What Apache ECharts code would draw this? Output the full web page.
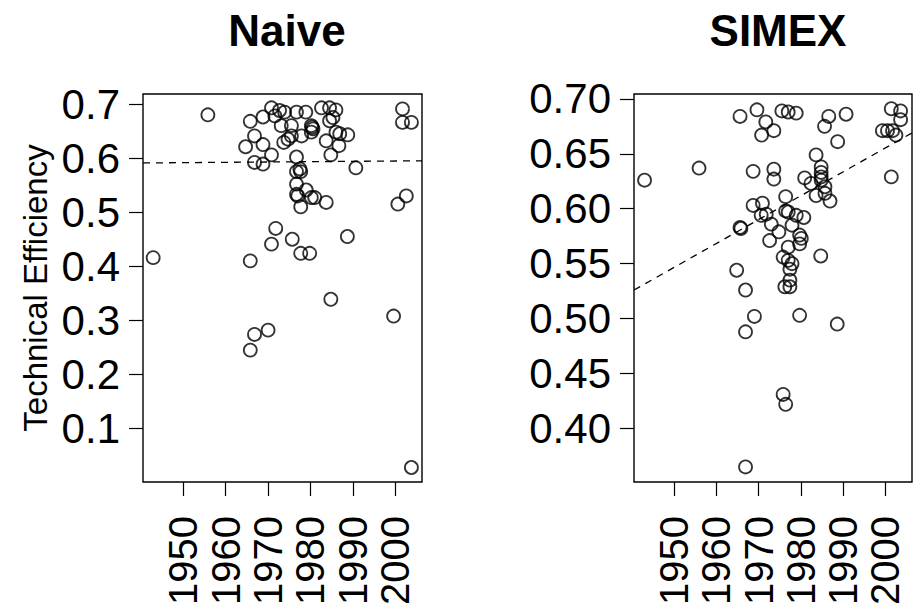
<!DOCTYPE html>
<html>
<head>
<meta charset="utf-8">
<script src="https://cdn.jsdelivr.net/npm/echarts@6/dist/echarts.min.js"></script>
<style>html,body{margin:0;padding:0;background:#fff}#c{width:915px;height:608px}</style>
</head>
<body>
<div id="c"></div>
<script>
// ---- data ----
const naiveYears = [1942.9,1955.8,1970.8,1972.7,1973.9,1976.7,1978.9,1982.6,1984.5,1986.0,1985.3,1984.5,1968.8,1965.8,1971.6,1973.1,1975.5,1980.2,1980.6,1980.2,1977.9,1975.5,1974.7,1973.7,1966.8,1968.8,1964.7,1970.8,1983.7,1986.0,1986.9,1988.8,1986.7,1984.8,2001.7,2001.7,2003.8,1966.8,1968.8,1976.7,1977.5,1976.7,1977.7,1990.7,1976.7,1976.7,1977.0,1979.0,1980.2,1981.0,1977.7,1983.7,2000.6,2002.6,1971.8,1970.8,1975.7,1977.7,1979.8,1988.7,1965.8,1984.8,1970.0,1966.8,1965.8,1999.6,2003.8,1980.4];
const naiveValues = [0.416,0.680,0.693,0.688,0.685,0.685,0.685,0.693,0.693,0.689,0.675,0.669,0.676,0.668,0.678,0.660,0.660,0.660,0.654,0.648,0.641,0.641,0.635,0.629,0.641,0.625,0.621,0.606,0.632,0.648,0.645,0.643,0.623,0.606,0.691,0.666,0.666,0.592,0.589,0.602,0.580,0.575,0.575,0.582,0.552,0.533,0.530,0.541,0.527,0.527,0.510,0.518,0.515,0.530,0.470,0.441,0.450,0.424,0.424,0.455,0.410,0.339,0.282,0.274,0.245,0.308,0.028,0.657];

const simexYears = [1943.0,1955.9,1965.6,1969.6,1971.7,1973.6,1970.7,1975.5,1968.7,1973.6,1973.6,1965.6,1965.8,1964.8,1966.9,1969.0,1966.9,1966.9,1975.8,1976.4,1968.7,1970.9,1970.6,1971.8,1973.0,1974.8,1972.6,1976.4,1976.4,1977.0,1978.9,1986.6,1990.7,1985.6,1988.7,2001.4,2003.6,2003.6,1999.3,2000.5,2001.7,2002.5,2001.4,1983.6,1984.8,1984.8,1984.8,1984.8,1980.9,1982.4,1985.7,1983.6,1985.7,1986.9,1977.0,1978.9,1980.7,1977.9,1979.7,1980.1,1979.7,1977.0,1984.7,1975.8,1977.0,1977.9,1977.4,1977.4,1977.4,1976.2,1979.7,1988.6];
const simexValues = [0.626,0.637,0.684,0.690,0.679,0.671,0.667,0.689,0.634,0.636,0.627,0.583,0.582,0.544,0.526,0.502,0.488,0.365,0.431,0.422,0.603,0.605,0.594,0.595,0.586,0.579,0.571,0.611,0.598,0.688,0.687,0.684,0.686,0.675,0.661,0.691,0.689,0.681,0.671,0.671,0.671,0.667,0.629,0.649,0.638,0.633,0.629,0.626,0.628,0.623,0.620,0.612,0.614,0.607,0.597,0.594,0.592,0.585,0.576,0.573,0.568,0.565,0.557,0.556,0.553,0.550,0.545,0.535,0.529,0.529,0.503,0.495];

// fitted lines (end points at the plot edges)
const naiveTrendYears = [1940.5, 2006.3];
const naiveTrendValues = [0.591, 0.595];
const simexTrendYears = [1940.5, 2006.3];
const simexTrendValues = [0.526, 0.669];

const yearTicks = [1950, 1960, 1970, 1980, 1990, 2000];
const naiveTicks = [0.1, 0.2, 0.3, 0.4, 0.5, 0.6, 0.7];
const simexTicks = [0.40, 0.45, 0.50, 0.55, 0.60, 0.65, 0.70];
const panelTitles = ['Naive', 'SIMEX'];
const yTitle = 'Technical Efficiency';

// ---- chart ----
const FONT = '"Liberation Sans", Arial, Helvetica, sans-serif';
const pairs = (xs, ys) => xs.map((x, i) => [x, ys[i]]);

function xAx(idx) {
  return {
    type: 'value', gridIndex: idx, min: 1940.5, max: 2006.3,
    splitLine: {show: false},
    axisLine: {show: false},
    axisTick: {show: true, length: 14, customValues: yearTicks, lineStyle: {color: '#000', width: 1.2}},
    axisLabel: {customValues: yearTicks, rotate: 90, fontSize: 40, color: '#000', margin: 34, fontFamily: FONT,
      formatter: v => String(Math.round(v))}
  };
}
function yAx(idx, min, max, ticks, digits) {
  return {
    type: 'value', gridIndex: idx, min: min, max: max,
    splitLine: {show: false},
    axisLine: {show: false},
    axisTick: {show: true, length: 14, customValues: ticks, lineStyle: {color: '#000', width: 1.2}},
    axisLabel: {customValues: ticks, fontSize: 42, color: '#000', margin: 23, fontFamily: FONT,
      formatter: v => Number(v).toFixed(digits)}
  };
}
const pointStyle = {color: 'rgba(255,255,255,0)', borderColor: '#000', borderWidth: 1.8};

const chart = echarts.init(document.getElementById('c'), null, {renderer: 'svg'});
chart.setOption({
  animation: false,
  backgroundColor: '#fff',
  grid: [
    {left: 143, top: 94, width: 279, height: 388, show: true, borderColor: '#000', borderWidth: 1.4, backgroundColor: 'transparent'},
    {left: 634, top: 94, width: 278, height: 388, show: true, borderColor: '#000', borderWidth: 1.4, backgroundColor: 'transparent'}
  ],
  xAxis: [xAx(0), xAx(1)],
  yAxis: [yAx(0, 0.0012, 0.7185, naiveTicks, 1), yAx(1, 0.3513, 0.7044, simexTicks, 2)],
  title: [
    {text: panelTitles[0], left: 282, top: 3, textAlign: 'center', textStyle: {fontSize: 44, fontWeight: 'bold', color: '#000', fontFamily: FONT}},
    {text: panelTitles[1], left: 773, top: 3, textAlign: 'center', textStyle: {fontSize: 44, fontWeight: 'bold', color: '#000', fontFamily: FONT}}
  ],
  graphic: [{
    type: 'text', x: 35, y: 288, rotation: Math.PI / 2,
    style: {text: yTitle, font: '33px ' + FONT, fill: '#000', textAlign: 'center', textVerticalAlign: 'middle'}
  }],
  series: [
    {type: 'scatter', xAxisIndex: 0, yAxisIndex: 0, data: pairs(naiveYears, naiveValues), symbol: 'circle', symbolSize: 13, itemStyle: pointStyle, silent: true},
    {type: 'scatter', xAxisIndex: 1, yAxisIndex: 1, data: pairs(simexYears, simexValues), symbol: 'circle', symbolSize: 13, itemStyle: pointStyle, silent: true},
    {type: 'line', xAxisIndex: 0, yAxisIndex: 0, data: pairs(naiveTrendYears, naiveTrendValues), symbol: 'none', lineStyle: {color: '#000', width: 1.3, type: [7, 6]}, silent: true},
    {type: 'line', xAxisIndex: 1, yAxisIndex: 1, data: pairs(simexTrendYears, simexTrendValues), symbol: 'none', lineStyle: {color: '#000', width: 1.3, type: [7, 6]}, silent: true}
  ]
});
</script>
</body>
</html>
